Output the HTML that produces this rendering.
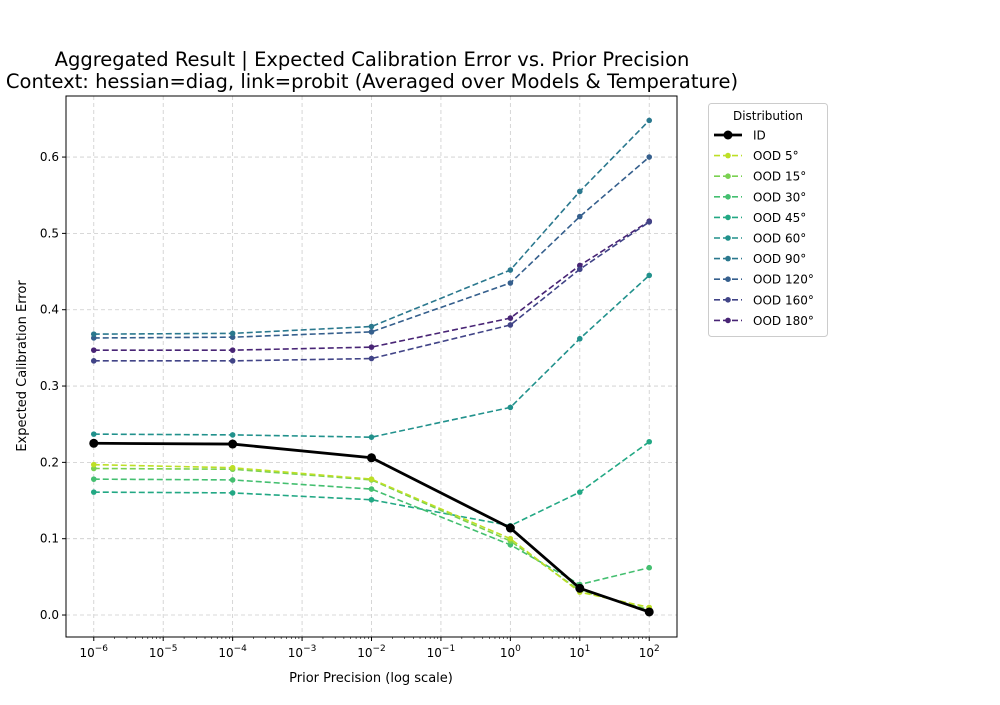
<!DOCTYPE html>
<html><head><meta charset="utf-8"><style>
body{margin:0;background:#fff;font-family:"Liberation Sans","DejaVu Sans",sans-serif}
</style></head><body>
<svg id="chart" width="1000" height="700" xmlns="http://www.w3.org/2000/svg" font-family="DejaVu Sans, Liberation Sans, sans-serif">
<text x="372" y="66" font-size="19.5" text-anchor="middle">Aggregated Result | Expected Calibration Error vs. Prior Precision</text>
<text x="372" y="88" font-size="19.5" text-anchor="middle">Context: hessian=diag, link=probit (Averaged over Models &amp; Temperature)</text>
<g id="grid"></g><g id="axes"></g><g id="series"></g><g id="legend"></g>
<text x="371" y="682" font-size="13" text-anchor="middle">Prior Precision (log scale)</text>
<text transform="translate(26,366) rotate(-90)" font-size="13" text-anchor="middle">Expected Calibration Error</text>
</svg>
<script>
const xExps=[-6,-4,-2,0,1,2];
const seriesNames=["ID","OOD 5°","OOD 15°","OOD 30°","OOD 45°","OOD 60°","OOD 90°","OOD 120°","OOD 160°","OOD 180°"];
const vID=[0.225,0.224,0.206,0.114,0.035,0.004];
const v5=[0.197,0.193,0.178,0.100,0.030,0.010];
const v15=[0.192,0.191,0.177,0.097,0.032,0.007];
const v30=[0.178,0.177,0.165,0.092,0.040,0.062];
const v45=[0.161,0.160,0.151,0.117,0.161,0.227];
const v60=[0.237,0.236,0.233,0.272,0.362,0.445];
const v90=[0.368,0.369,0.378,0.452,0.555,0.648];
const v120=[0.363,0.364,0.371,0.435,0.522,0.600];
const v160=[0.333,0.333,0.336,0.380,0.453,0.515];
const v180=[0.347,0.347,0.351,0.389,0.458,0.516];
const yTicks=[0,0.1,0.2,0.3,0.4,0.5,0.6];
const xTickExps=[-6,-5,-4,-3,-2,-1,0,1,2];
const colors=["#000","#bddf26","#7ad151","#44bf70","#22a884","#21918c","#2a788e","#355f8d","#414487","#482475"];
const allVals=[vID,v5,v15,v30,v45,v60,v90,v120,v160,v180];
const L=66,R=677,T=96,B=637;
const xMin=-6.40,xMax=2.40,yMin=-0.0288,yMax=0.680;
const sx=e=>L+(e-xMin)/(xMax-xMin)*(R-L);
const sy=v=>B-(v-yMin)/(yMax-yMin)*(B-T);
const NS="http://www.w3.org/2000/svg";
function mk(t,a,p){const e=document.createElementNS(NS,t);for(const k in a)e.setAttribute(k,a[k]);p.appendChild(e);return e;}
const grid=document.getElementById('grid'),axes=document.getElementById('axes'),ser=document.getElementById('series'),leg=document.getElementById('legend');
xTickExps.forEach(e=>{const x=sx(e);
 const g=mk('line',{x1:x,x2:x,y1:T,y2:B,stroke:'#ccc','stroke-dasharray':'4,3','stroke-width':0.8},grid);
 
 
 mk('line',{x1:x,x2:x,y1:B,y2:B+4,stroke:'#000'},axes);
 const t=mk('text',{x:x,y:B+20,'font-size':12,'text-anchor':'middle'},axes);
 
 
 t.innerHTML='10<tspan dy="-6" font-size="9">'+(e<0?'−'+(-e):e)+'</tspan>';});
for(let d=-6;d<2;d++)for(let m=2;m<10;m++){const x=sx(d+Math.log10(m));mk('line',{x1:x,x2:x,y1:B,y2:B+2,stroke:'#000','stroke-width':0.6},axes);}
yTicks.forEach(v=>{const y=sy(v);
 const g=mk('line',{x1:L,x2:R,y1:y,y2:y,stroke:'#ccc','stroke-dasharray':'4,3','stroke-width':0.8},grid);
 
 
 mk('line',{x1:L-4,x2:L,y1:y,y2:y,stroke:'#000'},axes);
 const t=mk('text',{x:L-7,y:y+4,'font-size':12,'text-anchor':'end'},axes);
 
 
 t.textContent=v.toFixed(1);});
const fr=mk('rect',{x:L,y:T,width:R-L,height:B-T,fill:'none',stroke:'#000','stroke-width':1},axes);


for(let i=allVals.length-1;i>=0;i--){
 const vals=allVals[i],isID=i===0;
 const g=mk('g',{},ser);
 
 
 const pts=vals.map((v,j)=>sx(xExps[j])+','+sy(v)).join(' ');
 mk('polyline',{points:pts,fill:'none',stroke:colors[i],'stroke-width':isID?2.8:1.6,'stroke-dasharray':isID?'':'6,3'},g);
 vals.forEach((v,j)=>{const c=mk('circle',{cx:sx(xExps[j]),cy:sy(v),r:isID?4.5:2.8,fill:colors[i]},g);
  
  });
}
const lb=mk('rect',{x:708.5,y:103.5,width:119,height:233,rx:3,fill:'#fff',stroke:'#ccc'},leg);


const lt=mk('text',{x:768,y:120,'font-size':12,'text-anchor':'middle'},leg);


lt.textContent='Distribution';
seriesNames.forEach((n,i)=>{const y=135+i*20.6,isID=i===0;
 const g=mk('g',{},leg);
 
 
 mk('line',{x1:714,x2:742,y1:y,y2:y,stroke:colors[i],'stroke-width':isID?2.8:1.6,'stroke-dasharray':isID?'':'6,3'},g);
 mk('circle',{cx:728,cy:y,r:isID?4.5:2.8,fill:colors[i]},g);
 const t=mk('text',{x:753,y:y+4.5,'font-size':12},g);t.textContent=n;});
</script>
</body></html>
